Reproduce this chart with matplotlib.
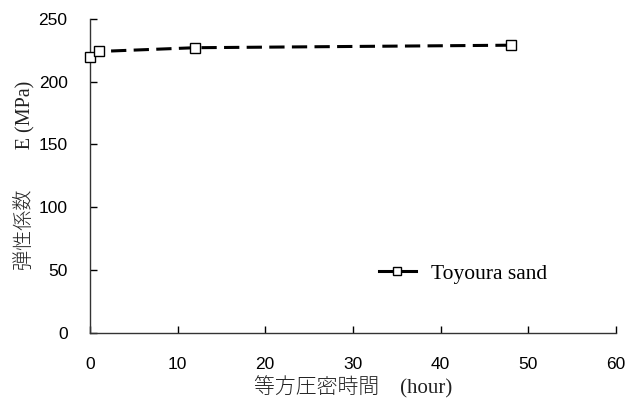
import matplotlib
matplotlib.use('Agg')
import matplotlib.pyplot as plt

# isotropic consolidation time (hour) vs elastic modulus E (MPa)
hours = [0, 1, 12, 48]
modulus = [220, 224, 227, 229]
series_label = 'Toyoura sand'

xticks = [0, 10, 20, 30, 40, 50, 60]
yticks = [0, 50, 100, 150, 200, 250]

plt.rcParams['font.family'] = ['Liberation Sans Narrow', 'Liberation Sans', 'DejaVu Sans']

fig = plt.figure(figsize=(6.28, 4.09), dpi=100)
ax = fig.add_axes([0.143, 0.186, 0.838, 0.768])

ax.plot(hours, modulus, color='black', linestyle=(0, (5, 2.4)), linewidth=2.2,
        marker='s', markersize=7, markerfacecolor='white', markeredgecolor='black',
        markeredgewidth=1.0, label=series_label, clip_on=False, zorder=3)

ax.set_xlim(0, 60)
ax.set_ylim(0, 250)
ax.set_xticks(xticks)
ax.set_yticks(yticks)
ax.tick_params(direction='in', length=5, width=1, labelsize=12.5)
ax.tick_params(axis='x', pad=17)
ax.tick_params(axis='y', pad=16)
for s in ['top', 'right']:
    ax.spines[s].set_visible(False)
for s in ['left', 'bottom']:
    ax.spines[s].set_linewidth(1)
    ax.spines[s].set_color('#333333')

mixed = ['Liberation Serif', 'Noto Sans CJK JP']
ax.set_xlabel('等方圧密時間\u3000(hour)', family=mixed, fontsize=15,
              fontweight='light', labelpad=3, color='#222222')
ax.set_ylabel('弾性係数\u3000\u3000E (MPa)', family=mixed, fontsize=14.5,
              fontweight='light', labelpad=3, color='#222222')

leg = ax.legend(loc='lower right', bbox_to_anchor=(0.905, 0.095), frameon=False,
                handlelength=1.7, handletextpad=0.7, markerscale=0.85,
                prop={'family': 'Liberation Serif', 'size': 15.5})
for h in leg.legend_handles:
    h.set_linestyle('-')

fig.savefig('out.png', dpi=100)
